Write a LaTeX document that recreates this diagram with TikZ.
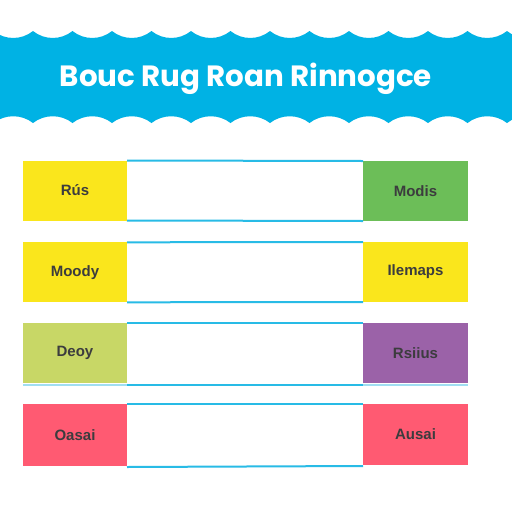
\documentclass[tikz,border=0pt]{standalone}
\usepackage{fontspec}
\setmainfont{Liberation Sans}
\newfontfamily\titlefont{Poppins}
\definecolor{banner}{RGB}{0,178,228}
\definecolor{bline}{RGB}{40,187,230}
\definecolor{paleline}{RGB}{160,222,242}
\definecolor{cyel}{RGB}{250,230,28}
\definecolor{cgreen}{RGB}{108,190,88}
\definecolor{colive}{RGB}{200,215,102}
\definecolor{cpurple}{RGB}{155,98,168}
\definecolor{cpink}{RGB}{255,90,114}
\definecolor{labtext}{RGB}{60,60,62}
\tikzset{
  lbox/.style={minimum width=104pt,minimum height=60pt,inner sep=0pt,outer sep=0pt,
    text=labtext,font=\fontsize{15}{15}\selectfont\bfseries},
  rbox/.style={lbox,minimum width=105pt},
  bline/.style={draw=bline,line width=2pt},
}
\begin{document}
\begin{tikzpicture}[x=1pt,y=-1pt]
\useasboundingbox (0,0) rectangle (512,512);
\clip (0,0) rectangle (512,512);
\fill[white] (0,0) rectangle (512,512);
% banner with scalloped edges
\fill[banner] (-6.5,31)
  \foreach \i in {0,...,14} {
    .. controls ({-6.5+39.5*\i+11.5},40.3) and ({-6.5+39.5*(\i+1)-11.5},40.3) .. ({-6.5+39.5*(\i+1)},31)
  }
  -- (586,123)
  \foreach \i in {15,14,...,1} {
    .. controls ({-6.5+39.5*\i-11.5},114) and ({-6.5+39.5*(\i-1)+11.5},114) .. ({-6.5+39.5*(\i-1)},123)
  } -- cycle;
\node[text=white,inner sep=0pt] (title) at (246,79)
  {\resizebox{372pt}{!}{\titlefont\bfseries Bouc Rug Roan Rinnogce}};
% rows
\node[lbox,fill=cyel] (L1) at (75,190.5) {Rús};
\node[rbox,fill=cgreen] (R1) at (415.5,191) {Modis};
\node[lbox,fill=cyel] (L2) at (75,272.3) {Moody};
\node[rbox,fill=cyel] (R2) at (415.5,272) {Ilemaps};
\node[lbox,fill=colive] (L3) at (75,353) {Deoy};
\node[rbox,fill=cpurple] (R3) at (415.5,353) {Rsiius};
\node[lbox,fill=cpink,minimum height=62pt] (L4) at (75,435) {Oasai};
\node[rbox,fill=cpink,minimum height=61pt] (R4) at (415.5,434.5) {Ausai};
\draw[draw=paleline,line width=2pt] ([yshift=-1.5pt]L3.south west) -- ([yshift=-1.5pt]R3.south east);
\draw[bline] (L1.north east) -- (R1.north west);
\draw[bline] (L1.south east) -- (R1.south west);
\draw[bline] (L2.north east) -- (R2.north west);
\draw[bline] (L2.south east) -- (R2.south west);
\draw[bline] (L3.north east) -- (R3.north west);
\draw[bline] ([yshift=-1.5pt]L3.south east) -- ([yshift=-1.5pt]R3.south west);
\draw[bline] (L4.north east) -- (R4.north west);
\draw[bline] ([yshift=-1pt]L4.south east) -- ([yshift=-1pt]R4.south west);
\end{tikzpicture}
\end{document}
